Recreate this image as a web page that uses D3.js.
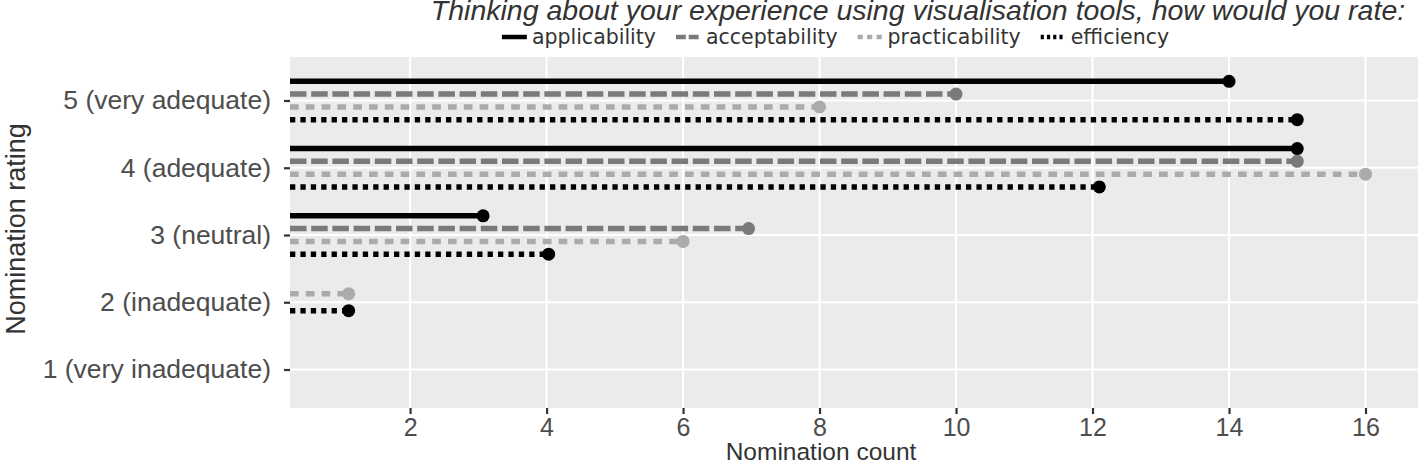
<!DOCTYPE html>
<html>
<head>
<meta charset="utf-8">
<script src="https://cdn.jsdelivr.net/npm/d3@7"></script>
<style>
  body { margin: 0; background: #fff; }
  text { font-family: "Liberation Sans", Arial, sans-serif; }
</style>
</head>
<body>
<script>
// Chart data
let ratings = ["5 (very adequate)", "4 (adequate)", "3 (neutral)", "2 (inadequate)", "1 (very inadequate)"];
let seriesNames = ["applicability", "acceptability", "practicability", "efficiency"];
let applicability = [14, 15, 3.07, null, null];
let acceptability = [10, 15, 6.96, null, null];
let practicability = [8, 16, 6, 1.1, null];
let efficiency = [15, 12.1, 4.03, 1.1, null];
let xTicks = [2, 4, 6, 8, 10, 12, 14, 16];

let seriesValues = [applicability, acceptability, practicability, efficiency];

// Look of each series
let styles = {
    applicability: { color: "#000000", dash: null },
    acceptability: { color: "#7a7a7a", dash: "16.5,4.7" },
    practicability: { color: "#ababab", dash: "8.7,7.1" },
    efficiency: { color: "#000000", dash: "5.3,5.1" }
};

let svgWidth = 1418;
let svgHeight = 461;

// Panel box
let panel = { left: 290, right: 1418, top: 57, bottom: 408 };

let svg = d3.select("body")
    .append("svg")
    .attr("width", svgWidth)
    .attr("height", svgHeight);

let xScale = d3.scaleLinear()
    .domain([0, 16])
    .range([273.6, 1365.5]);

let yScale = d3.scalePoint()
    .domain(ratings)
    .range([100.5, 369.5]);

// Half spread of the dodged lines, by how many series a rating has
let dodgeSpread = { 1: 0, 2: 8.4, 3: 12.8, 4: 19.2 };

// Build rows: one per rating and series that has a value
let rows = [];
ratings.forEach((rating, i) => {
    let present = seriesNames.filter((s, j) => seriesValues[j][i] != null);
    let w = dodgeSpread[present.length] || 0;
    let dodge = d3.scalePoint().domain(present).range([-w, w]);
    present.forEach(s => {
        rows.push({
            rating: rating,
            series: s,
            value: seriesValues[seriesNames.indexOf(s)][i],
            y: yScale(rating) + (present.length > 1 ? dodge(s) : 0)
        });
    });
});

// Panel background
svg.append("rect")
    .attr("x", panel.left)
    .attr("y", panel.top)
    .attr("width", panel.right - panel.left)
    .attr("height", panel.bottom - panel.top)
    .attr("fill", "#ebebeb");

svg.append("clipPath")
    .attr("id", "panel-clip")
    .append("rect")
    .attr("x", panel.left)
    .attr("y", panel.top)
    .attr("width", panel.right - panel.left)
    .attr("height", panel.bottom - panel.top);

// Grid lines
let grid = svg.append("g").attr("clip-path", "url(#panel-clip)");
grid.selectAll("line.vgrid")
    .data(xTicks)
    .enter()
    .append("line")
    .attr("class", "vgrid")
    .attr("x1", d => xScale(d))
    .attr("x2", d => xScale(d))
    .attr("y1", panel.top)
    .attr("y2", panel.bottom)
    .attr("stroke", "#ffffff")
    .attr("stroke-width", 2.2);
grid.selectAll("line.hgrid")
    .data(ratings)
    .enter()
    .append("line")
    .attr("class", "hgrid")
    .attr("x1", panel.left)
    .attr("x2", panel.right)
    .attr("y1", d => yScale(d))
    .attr("y2", d => yScale(d))
    .attr("stroke", "#ffffff")
    .attr("stroke-width", 2.2);

// Segments from the panel edge to the value
let marks = svg.append("g").attr("clip-path", "url(#panel-clip)");
let xStart = xScale.invert(panel.left);
marks.selectAll("line.seg")
    .data(rows)
    .enter()
    .append("line")
    .attr("class", "seg")
    .attr("x1", xScale(xStart))
    .attr("x2", d => xScale(d.value))
    .attr("y1", d => d.y)
    .attr("y2", d => d.y)
    .attr("stroke", d => styles[d.series].color)
    .attr("stroke-width", 5.5)
    .attr("stroke-dasharray", d => styles[d.series].dash);

marks.selectAll("circle")
    .data(rows)
    .enter()
    .append("circle")
    .attr("cx", d => xScale(d.value))
    .attr("cy", d => d.y)
    .attr("r", 6.5)
    .attr("fill", d => styles[d.series].color);

// X axis
let xAxis = d3.axisBottom(xScale)
    .tickValues(xTicks)
    .tickSize(6)
    .tickPadding(4);
let xg = svg.append("g")
    .attr("transform", `translate(0, ${panel.bottom})`)
    .call(xAxis);
xg.select(".domain").remove();
xg.selectAll(".tick line").attr("stroke", "#333333").attr("stroke-width", 2.2);
xg.selectAll(".tick text")
    .attr("fill", "#4d4d4d")
    .style("font-size", "25px");

// Y axis
let yAxis = d3.axisLeft(yScale)
    .tickSize(6)
    .tickPadding(13);
let yg = svg.append("g")
    .attr("transform", `translate(${panel.left}, 0)`)
    .call(yAxis);
yg.select(".domain").remove();
yg.selectAll(".tick line").attr("stroke", "#333333").attr("stroke-width", 2.2);
yg.selectAll(".tick text")
    .attr("fill", "#4d4d4d")
    .style("font-size", "26.5px");

// Axis titles
svg.append("text")
    .attr("x", 821)
    .attr("y", 460)
    .attr("text-anchor", "middle")
    .attr("fill", "#333333")
    .style("font-size", "24.5px")
    .text("Nomination count");

svg.append("text")
    .attr("transform", `translate(25, 229) rotate(-90)`)
    .attr("text-anchor", "middle")
    .attr("fill", "#333333")
    .style("font-size", "27px")
    .text("Nomination rating");

// Title
svg.append("text")
    .attr("x", 918)
    .attr("y", 20)
    .attr("text-anchor", "middle")
    .attr("fill", "#333333")
    .style("font-size", "28.5px")
    .style("font-style", "italic")
    .text("Thinking about your experience using visualisation tools, how would you rate:");

// Legend
let legend = svg.append("g");
let keyWidth = 25, keyGap = 5, itemGap = 20;
let legendY = 37;
let items = legend.selectAll("g.item")
    .data(seriesNames)
    .enter()
    .append("g")
    .attr("class", "item");
items.append("line")
    .attr("x1", 0)
    .attr("x2", keyWidth)
    .attr("y1", 0)
    .attr("y2", 0)
    .attr("stroke", d => styles[d].color)
    .attr("stroke-width", 4.5)
    .attr("stroke-dasharray", d => styles[d].dash ? styles[d].dash.split(",").map(v => v * 0.6).join(",") : null);
items.append("text")
    .attr("x", keyWidth + keyGap)
    .attr("y", 0)
    .attr("dy", "0.35em")
    .attr("fill", "#333333")
    .style("font-family", "'DejaVu Sans', sans-serif")
    .style("font-size", "20.5px")
    .text(d => d);

let offset = 0;
let widths = [];
items.each(function() {
    widths.push(keyWidth + keyGap + d3.select(this).select("text").node().getComputedTextLength());
});
let totalWidth = d3.sum(widths) + itemGap * (widths.length - 1);
let legendLeft = 835.5 - totalWidth / 2;
items.attr("transform", (d, i) => {
    let x = legendLeft + offset;
    offset += widths[i] + itemGap;
    return `translate(${x}, ${legendY})`;
});
</script>
</body>
</html>
